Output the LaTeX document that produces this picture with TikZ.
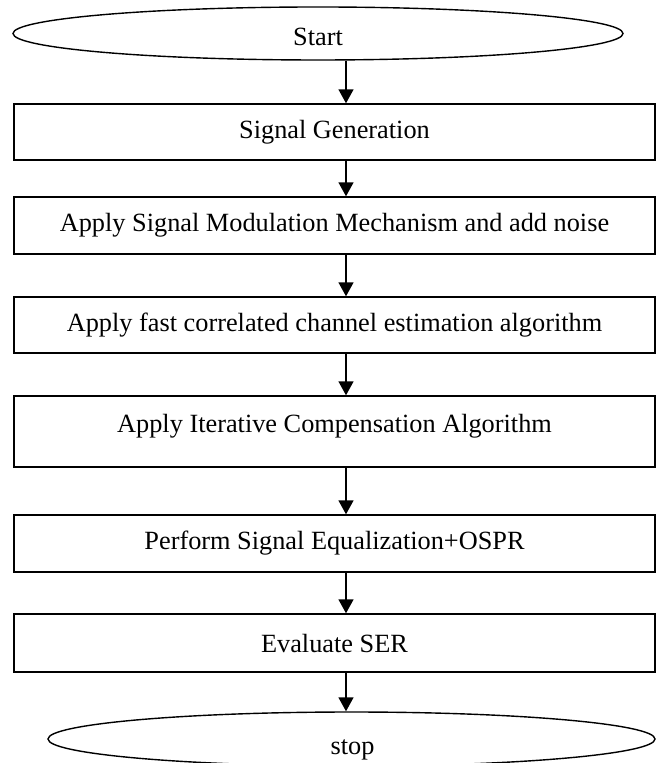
\documentclass[tikz,border=0pt]{standalone}
\usepackage{fontspec}
\setmainfont{Liberation Serif}
\usetikzlibrary{arrows.meta,shapes.geometric}
\begin{document}
\begin{tikzpicture}[x=0.5pt,y=-0.5pt,
  font=\fontsize{13.15}{15.8}\selectfont,
  stepbox/.style={draw, line width=0.7pt, rectangle, inner sep=0pt, minimum width=320.5pt},
  terminal/.style={draw, line width=0.7pt, ellipse, inner sep=0pt},
  flow/.style={line width=0.75pt, -{Triangle[width=7.5pt,length=7pt]}}
]
\useasboundingbox (0,0) rectangle (667,763);

% terminals
\node[terminal, minimum width=305pt, minimum height=26.5pt] (start) at (318,33.5) {};
\node[anchor=base] (startlabel) at (318,46) {Start};
\node[terminal, minimum width=303.5pt, minimum height=27pt] (stop) at (351.5,739) {};
\node[anchor=base] (stoplabel) at (352.5,754) {stop};

% processing steps
\node[stepbox, minimum height=28pt] (b1) at (334.5,132) {Signal Generation};
\node[stepbox, minimum height=28.5pt] (b2) at (334.5,225.5) {Apply Signal Modulation Mechanism and add noise};
\node[stepbox, minimum height=28pt] (b3) at (334.5,325) {Apply fast correlated channel estimation algorithm};
\node[stepbox, minimum height=35.5pt, text height=9pt, text depth=8.5pt] (b4) at (334.5,431.5) {Apply Iterative Compensation Algorithm};
\node[stepbox, minimum height=28.5pt] (b5) at (334.5,543.5) {Perform Signal Equalization+OSPR};
\node[stepbox, minimum height=29pt] (b6) at (334.5,643) {Evaluate SER};

% arrow column
\coordinate (ax) at (346,0);
\draw[flow] (start.south -| ax) -- (b1.north -| ax);
\draw[flow] (b1.south -| ax) -- (b2.north -| ax);
\draw[flow] (b2.south -| ax) -- (b3.north -| ax);
\draw[flow] (b3.south -| ax) -- (b4.north -| ax);
\draw[flow] (b4.south -| ax) -- (b5.north -| ax);
\draw[flow] (b5.south -| ax) -- (b6.north -| ax);
\draw[flow] (b6.south -| ax) -- (stop.north -| ax);
\end{tikzpicture}
\end{document}
